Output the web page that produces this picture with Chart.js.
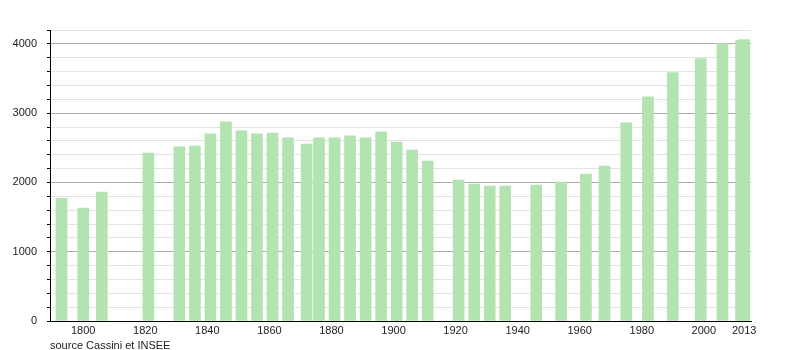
<!DOCTYPE html>
<html>
<head>
<meta charset="utf-8">
<script src="https://cdn.jsdelivr.net/npm/chart.js@4"></script>
<style>
  body { margin: 0; background: #fff; }
</style>
</head>
<body>
<canvas id="pop" width="800" height="350"></canvas>
<script>
const years = [1793, 1800, 1806, 1821, 1831, 1836, 1841, 1846, 1851, 1856, 1861, 1866,
  1872, 1876, 1881, 1886, 1891, 1896, 1901, 1906, 1911, 1921, 1926, 1931, 1936,
  1946, 1954, 1962, 1968, 1975, 1982, 1990, 1999, 2006, 2012, 2013];
const population = [1770, 1630, 1860, 2425, 2512, 2526, 2700, 2874, 2743, 2700, 2714, 2642,
  2555, 2642, 2642, 2671, 2642, 2729, 2584, 2468, 2309, 2033, 1975, 1946, 1946,
  1961, 2004, 2120, 2236, 2859, 3236, 3584, 3787, 4004, 4048, 4062];
const xTicks = [1800, 1820, 1840, 1860, 1880, 1900, 1920, 1940, 1960, 1980, 2000, 2013];
const yLabels = [0, 1000, 2000, 3000, 4000];
const sourceText = "source Cassini et INSEE";

const font = { family: "'Liberation Sans', Arial, sans-serif", size: 11 };

// footer note under the axis
const sourceNote = {
  id: "sourceNote",
  afterDraw(chart) {
    const ctx = chart.ctx;
    ctx.save();
    ctx.font = "11px 'Liberation Sans', Arial, sans-serif";
    ctx.fillStyle = "#222";
    ctx.textBaseline = "middle";
    ctx.fillText(sourceText, 50, 346);
    ctx.restore();
  }
};

const ctx = document.getElementById("pop").getContext("2d");
new Chart(ctx, {
  type: "bar",
  data: {
    datasets: [{
      data: years.map((y, i) => ({ x: y, y: population[i] })),
      backgroundColor: "rgb(179, 227, 176)",
      borderWidth: 0,
      barThickness: 11
    }]
  },
  options: {
    responsive: false,
    animation: false,
    layout: { padding: { top: 30, right: 49, left: 0, bottom: 0 } },
    plugins: { legend: { display: false }, tooltip: { enabled: false } },
    scales: {
      x: {
        type: "linear",
        min: 1789.3,
        max: 2015.2,
        offset: false,
        grid: { display: false, drawTicks: false },
        border: { display: true, color: "#000", width: 1 },
        ticks: { color: "#222", font, padding: 3, autoSkip: false, maxRotation: 0,
          callback: v => String(v) },
        afterBuildTicks: s => { s.ticks = xTicks.map(v => ({ value: v })); },
        afterFit: s => { s.height = 29; }
      },
      y: {
        min: 0,
        max: 4200,
        grid: {
          color: c => (c.tick && yLabels.includes(c.tick.value)) ? "#aaaaaa" : "#e3e3e3",
          tickColor: "#000",
          tickLength: 3
        },
        border: { display: true, color: "#000", width: 1 },
        ticks: {
          stepSize: 200,
          autoSkip: false,
          color: "#222",
          font,
          padding: 10,
          callback: v => yLabels.includes(v) ? String(v) : ""
        },
        afterFit: s => { s.width = 50; }
      }
    }
  },
  plugins: [sourceNote]
});
</script>
</body>
</html>
